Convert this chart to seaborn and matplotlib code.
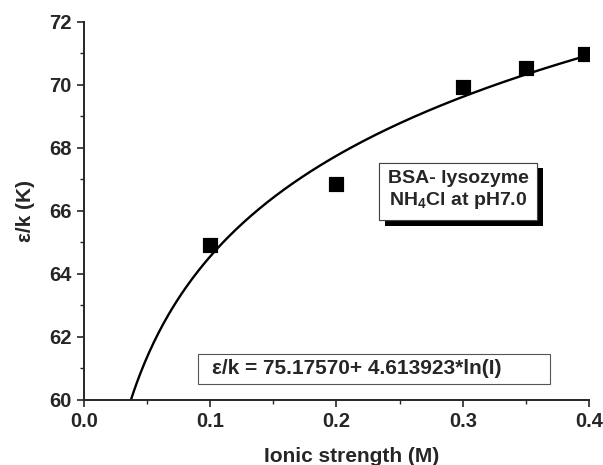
import numpy as np
import pandas as pd
import matplotlib
matplotlib.use("Agg")
import matplotlib.pyplot as plt
import matplotlib.patheffects as pe
from matplotlib.patches import Rectangle
from matplotlib.ticker import MultipleLocator
import seaborn as sns

# measured points
ionic_strength = [0.1, 0.2, 0.3, 0.35, 0.397]
eps_k = [64.92, 66.86, 69.93, 70.53, 70.97]

# fit shown on the chart: eps/k = a + b*ln(I)
fit_a = 75.17570
fit_b = 4.613923

sns.set_style("ticks")
plt.rcParams["font.family"] = ["Liberation Sans", "DejaVu Sans"]
plt.rcParams["font.weight"] = "bold"
plt.rcParams["mathtext.fontset"] = "custom"
plt.rcParams["mathtext.rm"] = "Liberation Sans:bold"
plt.rcParams["mathtext.it"] = "Liberation Sans:bold"
plt.rcParams["mathtext.bf"] = "Liberation Sans:bold"

fig = plt.figure(figsize=(6.03, 4.65), dpi=100)
ax = fig.add_axes([0.139, 0.140, 0.838, 0.813])

I_start = np.exp((60 - fit_a) / fit_b)
I_fit = np.linspace(I_start, 0.4, 300)
fit_df = pd.DataFrame({"I": I_fit, "eps": fit_a + fit_b * np.log(I_fit)})
pts_df = pd.DataFrame({"I": ionic_strength, "eps": eps_k})

sns.lineplot(data=fit_df, x="I", y="eps", ax=ax, color="black", linewidth=1.7)
sns.scatterplot(data=pts_df, x="I", y="eps", ax=ax, marker="s", s=115,
                color="black", edgecolor="black", zorder=3)

ax.set_xlim(0, 0.4)
ax.set_ylim(60, 72)
ax.xaxis.set_major_locator(MultipleLocator(0.1))
ax.xaxis.set_minor_locator(MultipleLocator(0.05))
ax.yaxis.set_major_locator(MultipleLocator(2))
ax.yaxis.set_minor_locator(MultipleLocator(1))
ax.set_xticklabels([f"{v:.1f}" for v in ax.get_xticks()])
ax.set_yticklabels([f"{v:.0f}" for v in ax.get_yticks()])
ax.tick_params(which="major", length=5, width=1.2, labelsize=14.5, direction="out", pad=4)
ax.tick_params(which="minor", length=3, width=1.0, direction="out")
for lab in ax.get_xticklabels() + ax.get_yticklabels():
    lab.set_fontweight("bold")
sns.despine(ax=ax)
for s in ["left", "bottom"]:
    ax.spines[s].set_linewidth(1.4)

ax.set_xlabel("Ionic strength (M)", fontsize=15, fontweight="bold")
ax.xaxis.set_label_coords(0.529, -0.125)
ax.xaxis.label.set_va("top")
ax.set_ylabel("ε/k (K)", fontsize=15, fontweight="bold", labelpad=10)

t1 = ax.text(0.741, 0.554, "BSA- lysozyme\nNH$_4$Cl at pH7.0", transform=ax.transAxes,
             ha="center", va="center", fontsize=14, fontweight="bold", linespacing=1.25,
             bbox=dict(boxstyle="square,pad=0.45", facecolor="white", edgecolor="#444444", linewidth=0.8))
t1.get_bbox_patch().set_path_effects([pe.withSimplePatchShadow(offset=(4, -4), shadow_rgbFace="black", alpha=1), pe.Normal()])

# equation box (text sits left inside a wider frame)
ax.add_patch(Rectangle((0.226, 0.042), 0.697, 0.080, transform=ax.transAxes,
                       facecolor="white", edgecolor="#555555", linewidth=0.8, zorder=4))
ax.text(0.253, 0.082, "ε/k = 75.17570+ 4.613923*ln(I)", transform=ax.transAxes,
        ha="left", va="center", fontsize=15, fontweight="bold", zorder=5)

fig.savefig("out.png", dpi=100)
